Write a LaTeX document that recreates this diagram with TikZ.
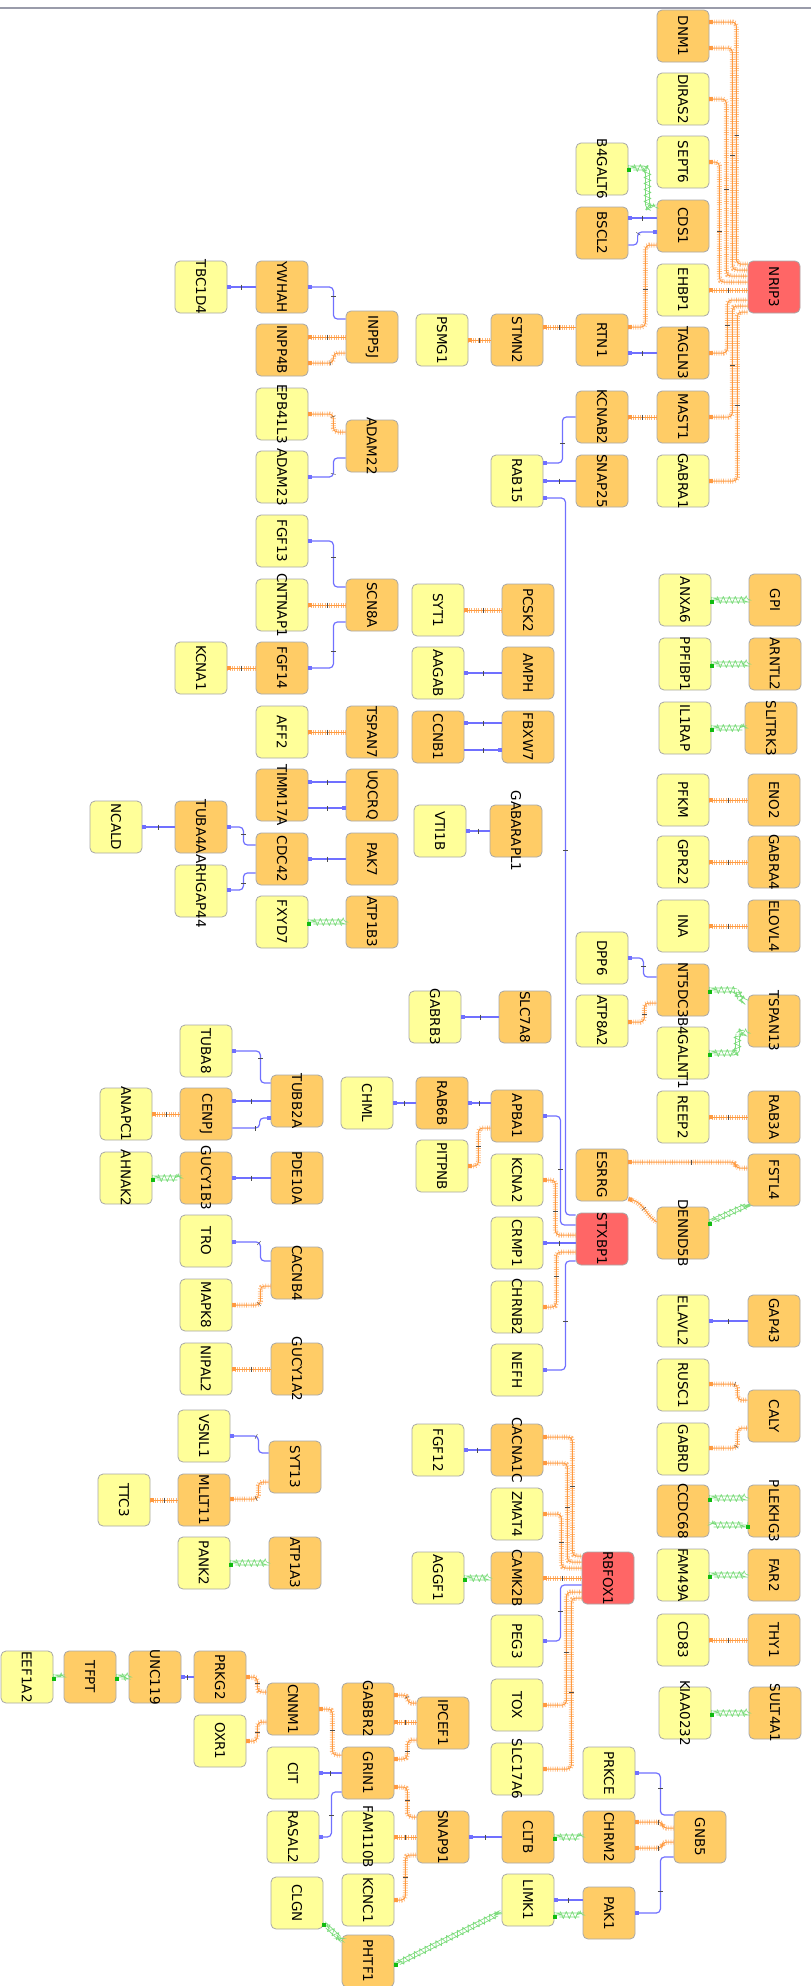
\documentclass[tikz,border=0pt]{standalone}
\usepackage{fontspec}
\setmainfont{DejaVu Sans}
\usepackage{graphicx}
\usetikzlibrary{arrows.meta,calc,decorations.pathmorphing,decorations.markings}

\definecolor{geneyellow}{HTML}{FFFF99}
\definecolor{geneorange}{HTML}{FFCC66}
\definecolor{genered}{HTML}{FF6666}
\definecolor{boxline}{HTML}{A8A8A8}
\definecolor{edgeblue}{HTML}{7070FF}
\definecolor{edgeorange}{HTML}{FF9A40}
\definecolor{edgegreen}{HTML}{7CDC7C}
\definecolor{dotgreen}{HTML}{11BB11}
\definecolor{topline}{HTML}{9A9CAA}

% gene label, turned to read from top to bottom
\newcommand{\gene}[1]{\rotatebox{-90}{\makebox[0pt]{#1}}}

\begin{document}
\begin{tikzpicture}[x=1pt, y=-1pt,
  gbox/.style={rectangle, rounded corners=5pt, draw=boxline, line width=0.8pt,
    minimum width=52pt, minimum height=52pt, inner sep=0pt, font=\fontsize{13.5}{15}\selectfont},
  ybox/.style={gbox, fill=geneyellow},
  obox/.style={gbox, fill=geneorange},
  rbox/.style={gbox, fill=genered},
  midtick/.style={postaction={decorate, decoration={markings,
    mark=at position 0.5 with {\draw[arrows=-, black!70, line width=0.4pt] (0,-2.5) -- (0,2.5);}}}},
  bedge/.style={draw=edgeblue, line width=1.2pt, rounded corners=4pt,
    arrows={Square[length=3.5pt,width=3.5pt]-}, midtick},
  oedge/.style={draw=edgeorange, line width=1pt, rounded corners=4pt,
    arrows={Square[length=4pt,width=4pt]-},
    preaction={draw=edgeorange!70, arrows=-, line width=5pt, dash pattern=on 0.7pt off 1.6pt}, midtick},
  gedge/.style={draw=edgegreen, line width=0.6pt, rounded corners=4pt,
    arrows={Square[length=3.5pt,width=3.5pt,color=dotgreen]-},
    decorate, decoration={snake, amplitude=2pt, segment length=6pt, pre length=4pt, post length=1pt}}
]
  \useasboundingbox (0,0) rectangle (811,1986);
  \fill[white] (0,0) rectangle (811,1986);

  % Draw top rule
  \draw[topline, line width=1.2pt] (0,8) -- (811,8);

  % Nodes around NRIP3
  \node[obox] (DNM1) at (683,36) {\gene{DNM1}};
  \node[ybox] (DIRAS2) at (683,99) {\gene{DIRAS2}};
  \node[ybox] (SEPT6) at (683,162) {\gene{SEPT6}};
  \node[obox] (CDS1) at (683,226) {\gene{CDS1}};
  \node[ybox] (EHBP1) at (683,290) {\gene{EHBP1}};
  \node[obox] (TAGLN3) at (683,353) {\gene{TAGLN3}};
  \node[obox] (MAST1) at (683,417) {\gene{MAST1}};
  \node[ybox] (GABRA1) at (683,481) {\gene{GABRA1}};
  \node[rbox] (NRIP3) at (774,287) {\gene{NRIP3}};
  \node[ybox] (B4GALT6) at (602,169) {\gene{B4GALT6}};
  \node[obox] (BSCL2) at (602,233) {\gene{BSCL2}};
  \node[obox] (RTN1) at (602,340) {\gene{RTN1}};
  \node[obox] (KCNAB2) at (602,417) {\gene{KCNAB2}};
  \node[obox] (SNAP25) at (602,481) {\gene{SNAP25}};
  \node[obox] (STMN2) at (517,340) {\gene{STMN2}};
  \node[ybox] (RAB15) at (517,481) {\gene{RAB15}};
  \node[ybox] (PSMG1) at (442,340) {\gene{PSMG1}};

  % Nodes of the left upper clusters
  \node[obox] (INPP5J) at (372,337) {\gene{INPP5J}};
  \node[obox] (YWHAH) at (282,287) {\gene{YWHAH}};
  \node[ybox] (TBC1D4) at (201,287) {\gene{TBC1D4}};
  \node[obox] (INPP4B) at (282,350) {\gene{INPP4B}};
  \node[ybox] (EPB41L3) at (282,414) {\gene{EPB41L3}};
  \node[obox] (ADAM22) at (372,446) {\gene{ADAM22}};
  \node[ybox] (ADAM23) at (282,477) {\gene{ADAM23}};
  \node[ybox] (FGF13) at (282,541) {\gene{FGF13}};
  \node[obox] (SCN8A) at (372,605) {\gene{SCN8A}};
  \node[ybox] (CNTNAP1) at (282,605) {\gene{CNTNAP1}};
  \node[ybox] (KCNA1) at (201,668) {\gene{KCNA1}};
  \node[obox] (FGF14) at (282,668) {\gene{FGF14}};
  \node[ybox] (AFF2) at (282,732) {\gene{AFF2}};
  \node[obox] (TSPAN7) at (372,732) {\gene{TSPAN7}};
  \node[obox] (TIMM17A) at (282,795) {\gene{TIMM17A}};
  \node[obox] (UQCRQ) at (372,795) {\gene{UQCRQ}};
  \node[ybox] (NCALD) at (116,827) {\gene{NCALD}};
  \node[obox] (TUBA4A) at (201,827) {\gene{TUBA4A}};
  \node[obox] (CDC42) at (282,859) {\gene{CDC42}};
  \node[obox] (PAK7) at (372,859) {\gene{PAK7}};
  \node[ybox] (ARHGAP44) at (201,891) {\gene{ARHGAP44}};
  \node[ybox] (FXYD7) at (282,922) {\gene{FXYD7}};
  \node[obox] (ATP1B3) at (372,922) {\gene{ATP1B3}};

  % Nodes of the middle pairs
  \node[ybox] (SYT1) at (438,610) {\gene{SYT1}};
  \node[obox] (PCSK2) at (528,610) {\gene{PCSK2}};
  \node[ybox] (AAGAB) at (438,673) {\gene{AAGAB}};
  \node[obox] (AMPH) at (528,673) {\gene{AMPH}};
  \node[obox] (CCNB1) at (438,737) {\gene{CCNB1}};
  \node[obox] (FBXW7) at (528,737) {\gene{FBXW7}};
  \node[ybox] (VTI1B) at (440,831) {\gene{VTI1B}};
  \node[obox] (GABARAPL1) at (516,831) {\gene{GABARAPL1}};
  \node[ybox] (GABRB3) at (435,1017) {\gene{GABRB3}};
  \node[obox] (SLC7A8) at (525,1017) {\gene{SLC7A8}};

  % Nodes of the right column
  \node[ybox] (ANXA6) at (685,600) {\gene{ANXA6}};
  \node[obox] (GPI) at (775,600) {\gene{GPI}};
  \node[ybox] (PPFIBP1) at (685,664) {\gene{PPFIBP1}};
  \node[obox] (ARNTL2) at (775,664) {\gene{ARNTL2}};
  \node[ybox] (IL1RAP) at (685,728) {\gene{IL1RAP}};
  \node[obox] (SLITRK3) at (771,728) {\gene{SLITRK3}};
  \node[ybox] (PFKM) at (683,800) {\gene{PFKM}};
  \node[obox] (ENO2) at (774,800) {\gene{ENO2}};
  \node[ybox] (GPR22) at (683,862) {\gene{GPR22}};
  \node[obox] (GABRA4) at (774,862) {\gene{GABRA4}};
  \node[ybox] (INA) at (683,926) {\gene{INA}};
  \node[obox] (ELOVL4) at (774,926) {\gene{ELOVL4}};
  \node[ybox] (DPP6) at (602,958) {\gene{DPP6}};
  \node[obox] (NT5DC3) at (683,990) {\gene{NT5DC3}};
  \node[ybox] (ATP8A2) at (602,1021) {\gene{ATP8A2}};
  \node[obox] (TSPAN13) at (774,1021) {\gene{TSPAN13}};
  \node[ybox] (B4GALNT1) at (683,1053) {\gene{B4GALNT1}};
  \node[ybox] (REEP2) at (683,1117) {\gene{REEP2}};
  \node[obox] (RAB3A) at (774,1117) {\gene{RAB3A}};
  \node[obox] (ESRRG) at (602,1175) {\gene{ESRRG}};
  \node[obox] (FSTL4) at (774,1180) {\gene{FSTL4}};
  \node[obox] (DENND5B) at (683,1233) {\gene{DENND5B}};
  \node[ybox] (ELAVL2) at (683,1321) {\gene{ELAVL2}};
  \node[obox] (GAP43) at (774,1321) {\gene{GAP43}};
  \node[ybox] (RUSC1) at (683,1385) {\gene{RUSC1}};
  \node[obox] (CALY) at (774,1416) {\gene{CALY}};
  \node[ybox] (GABRD) at (683,1449) {\gene{GABRD}};
  \node[obox] (CCDC68) at (683,1511) {\gene{CCDC68}};
  \node[obox] (PLEKHG3) at (774,1511) {\gene{PLEKHG3}};
  \node[ybox] (FAM49A) at (683,1575) {\gene{FAM49A}};
  \node[obox] (FAR2) at (774,1575) {\gene{FAR2}};
  \node[ybox] (CD83) at (683,1640) {\gene{CD83}};
  \node[obox] (THY1) at (774,1640) {\gene{THY1}};
  \node[ybox] (KIAA0232) at (685,1713) {\gene{KIAA0232}};
  \node[obox] (SULT4A1) at (775,1713) {\gene{SULT4A1}};

  % Nodes around STXBP1
  \node[ybox] (TUBA8) at (206,1051) {\gene{TUBA8}};
  \node[obox] (TUBB2A) at (297,1101) {\gene{TUBB2A}};
  \node[ybox] (ANAPC1) at (126,1114) {\gene{ANAPC1}};
  \node[obox] (CENPJ) at (206,1114) {\gene{CENPJ}};
  \node[ybox] (CHML) at (367,1103) {\gene{CHML}};
  \node[obox] (RAB6B) at (442,1103) {\gene{RAB6B}};
  \node[obox] (APBA1) at (517,1116) {\gene{APBA1}};
  \node[ybox] (PITPNB) at (442,1166) {\gene{PITPNB}};
  \node[ybox] (KCNA2) at (517,1180) {\gene{KCNA2}};
  \node[ybox] (AHNAK2) at (126,1178) {\gene{AHNAK2}};
  \node[obox] (GUCY1B3) at (206,1178) {\gene{GUCY1B3}};
  \node[obox] (PDE10A) at (297,1178) {\gene{PDE10A}};
  \node[ybox] (TRO) at (206,1241) {\gene{TRO}};
  \node[obox] (CACNB4) at (297,1273) {\gene{CACNB4}};
  \node[ybox] (CRMP1) at (517,1243) {\gene{CRMP1}};
  \node[rbox] (STXBP1) at (602,1239) {\gene{STXBP1}};
  \node[ybox] (MAPK8) at (206,1305) {\gene{MAPK8}};
  \node[ybox] (CHRNB2) at (517,1307) {\gene{CHRNB2}};
  \node[ybox] (NIPAL2) at (206,1369) {\gene{NIPAL2}};
  \node[obox] (GUCY1A2) at (297,1369) {\gene{GUCY1A2}};
  \node[ybox] (NEFH) at (517,1370) {\gene{NEFH}};

  % Nodes around RBFOX1
  \node[ybox] (VSNL1) at (204,1436) {\gene{VSNL1}};
  \node[obox] (SYT13) at (295,1467) {\gene{SYT13}};
  \node[ybox] (FGF12) at (438,1450) {\gene{FGF12}};
  \node[obox] (CACNA1C) at (517,1450) {\gene{CACNA1C}};
  \node[ybox] (TTC3) at (124,1500) {\gene{TTC3}};
  \node[obox] (MLLT11) at (204,1500) {\gene{MLLT11}};
  \node[ybox] (ZMAT4) at (517,1514) {\gene{ZMAT4}};
  \node[ybox] (PANK2) at (204,1563) {\gene{PANK2}};
  \node[obox] (ATP1A3) at (295,1563) {\gene{ATP1A3}};
  \node[ybox] (AGGF1) at (438,1578) {\gene{AGGF1}};
  \node[obox] (CAMK2B) at (517,1578) {\gene{CAMK2B}};
  \node[rbox] (RBFOX1) at (608,1578) {\gene{RBFOX1}};
  \node[ybox] (PEG3) at (517,1641) {\gene{PEG3}};
  \node[ybox] (TOX) at (517,1705) {\gene{TOX}};
  \node[ybox] (SLC17A6) at (517,1769) {\gene{SLC17A6}};

  % Nodes of the bottom clusters
  \node[ybox] (EEF1A2) at (27,1677) {\gene{EEF1A2}};
  \node[obox] (TFPT) at (90,1677) {\gene{TFPT}};
  \node[obox] (UNC119) at (155,1677) {\gene{UNC119}};
  \node[obox] (PRKG2) at (220,1677) {\gene{PRKG2}};
  \node[obox] (CNNM1) at (293,1709) {\gene{CNNM1}};
  \node[obox] (GABBR2) at (368,1709) {\gene{GABBR2}};
  \node[obox] (IPCEF1) at (443,1723) {\gene{IPCEF1}};
  \node[ybox] (OXR1) at (220,1741) {\gene{OXR1}};
  \node[ybox] (CIT) at (293,1773) {\gene{CIT}};
  \node[obox] (GRIN1) at (368,1773) {\gene{GRIN1}};
  \node[ybox] (PRKCE) at (609,1773) {\gene{PRKCE}};
  \node[ybox] (RASAL2) at (293,1837) {\gene{RASAL2}};
  \node[ybox] (FAM110B) at (368,1837) {\gene{FAM110B}};
  \node[obox] (SNAP91) at (443,1837) {\gene{SNAP91}};
  \node[obox] (CLTB) at (528,1837) {\gene{CLTB}};
  \node[obox] (CHRM2) at (609,1837) {\gene{CHRM2}};
  \node[obox] (GNB5) at (700,1837) {\gene{GNB5}};
  \node[ybox] (CLGN) at (297,1903) {\gene{CLGN}};
  \node[ybox] (KCNC1) at (368,1900) {\gene{KCNC1}};
  \node[ybox] (LIMK1) at (528,1900) {\gene{LIMK1}};
  \node[obox] (PAK1) at (609,1913) {\gene{PAK1}};
  \node[obox] (PHTF1) at (368,1961) {\gene{PHTF1}};

  % Edges into NRIP3
  \draw[oedge] ($(DNM1.east)+(0,-14)$) -- ++(27,0) |- ($(NRIP3.west)+(0,-23)$);
  \draw[oedge] ($(DNM1.east)+(0,12)$) -- ++(23,0) |- ($(NRIP3.west)+(0,-17)$);
  \draw[oedge] (DIRAS2.east) -- ++(17,0) |- ($(NRIP3.west)+(0,-11)$);
  \draw[oedge] (SEPT6.east) -- ++(10,0) |- ($(NRIP3.west)+(0,-5)$);
  \draw[oedge] (EHBP1.east) -- ($(NRIP3.west)+(0,3)$);
  \draw[oedge] (TAGLN3.east) -- ++(18,0) |- ($(NRIP3.west)+(0,13)$);
  \draw[oedge] (MAST1.east) -- ++(23,0) |- ($(NRIP3.west)+(0,19)$);
  \draw[oedge] (GABRA1.east) -- ++(28,0) |- ($(NRIP3.west)+(0,25)$);

  % Edges of CDS1 and RTN1
  \draw[gedge] ($(B4GALT6.east)+(0,-1)$) -- ++(18,0) |- ($(CDS1.west)+(0,-18)$);
  \draw[bedge] ($(BSCL2.east)+(0,-15)$) -- ($(CDS1.west)+(0,-8)$);
  \draw[bedge] ($(CDS1.west)+(0,6)$) -- ++(-19,0) |- ($(BSCL2.east)+(0,12)$);
  \draw[oedge] ($(RTN1.east)+(0,-13)$) -- ++(17,0) |- ($(CDS1.west)+(0,19)$);
  \draw[bedge] ($(RTN1.east)+(0,13)$) -- (TAGLN3.west);
  \draw[oedge] ($(STMN2.east)+(0,-13)$) -- ($(RTN1.west)+(0,-13)$);
  \draw[oedge] (PSMG1.east) -- (STMN2.west);

  % Edges of INPP5J and ADAM22
  \draw[bedge] (TBC1D4.east) -- (YWHAH.west);
  \draw[bedge] (YWHAH.east) -- ++(25,0) |- ($(INPP5J.west)+(0,-18)$);
  \draw[oedge] ($(INPP4B.east)+(0,-13)$) -- (INPP5J.west);
  \draw[oedge] ($(INPP4B.east)+(0,13)$) -- ++(25,0) |- ($(INPP5J.west)+(0,16)$);
  \draw[oedge] (EPB41L3.east) -- ++(25,0) |- ($(ADAM22.west)+(0,-14)$);
  \draw[bedge] (ADAM23.east) -- ++(25,0) |- ($(ADAM22.west)+(0,12)$);

  % Edges of RAB15
  \draw[oedge] (KCNAB2.east) -- (MAST1.west);
  \draw[bedge] ($(RAB15.east)+(0,-18)$) -- ++(19,0) |- (KCNAB2.west);
  \draw[bedge] (RAB15.east) -- (SNAP25.west);
  \draw[bedge] ($(RAB15.east)+(0,17)$) -- ++(22,0) |- ($(STXBP1.west)+(0,-24)$);

  % Edges of SCN8A and its neighbours
  \draw[bedge] (FGF13.east) -- ++(25,0) |- ($(SCN8A.west)+(0,-18)$);
  \draw[oedge] (CNTNAP1.east) -- (SCN8A.west);
  \draw[bedge] (FGF14.east) -- ++(25,0) |- ($(SCN8A.west)+(0,17)$);
  \draw[oedge] (KCNA1.east) -- (FGF14.west);
  \draw[oedge] (AFF2.east) -- (TSPAN7.west);
  \draw[bedge] ($(TIMM17A.east)+(0,-13)$) -- ($(UQCRQ.west)+(0,-13)$);
  \draw[bedge] ($(UQCRQ.west)+(0,13)$) -- ($(TIMM17A.east)+(0,13)$);

  % Edges of the middle pairs
  \draw[oedge] (SYT1.east) -- (PCSK2.west);
  \draw[bedge] (AAGAB.east) -- (AMPH.west);
  \draw[bedge] ($(CCNB1.east)+(0,-14)$) -- ($(FBXW7.west)+(0,-14)$);
  \draw[bedge] ($(FBXW7.west)+(0,13)$) -- ($(CCNB1.east)+(0,13)$);
  \draw[bedge] (VTI1B.east) -- (GABARAPL1.west);
  \draw[bedge] (GABRB3.east) -- (SLC7A8.west);

  % Edges of the right column pairs
  \draw[gedge] (ANXA6.east) -- (GPI.west);
  \draw[gedge] (PPFIBP1.east) -- (ARNTL2.west);
  \draw[gedge] (IL1RAP.east) -- (SLITRK3.west);
  \draw[oedge] (PFKM.east) -- (ENO2.west);
  \draw[oedge] (GPR22.east) -- (GABRA4.west);
  \draw[oedge] (INA.east) -- (ELOVL4.west);

  % Edges of CDC42
  \draw[bedge] (NCALD.east) -- (TUBA4A.west);
  \draw[bedge] (TUBA4A.east) -- ++(16,0) |- ($(CDC42.west)+(0,-14)$);
  \draw[bedge] ($(ARHGAP44.east)+(0,-1)$) -- ++(16,0) |- ($(CDC42.west)+(0,14)$);
  \draw[bedge] (CDC42.east) -- (PAK7.west);
  \draw[gedge] (FXYD7.east) -- (ATP1B3.west);

  % Edges of NT5DC3 and TSPAN13
  \draw[bedge] (DPP6.east) -- ++(15,0) |- ($(NT5DC3.west)+(0,-13)$);
  \draw[oedge] ($(ATP8A2.east)+(0,1)$) -- ++(16,0) |- ($(NT5DC3.west)+(0,13)$);
  \draw[gedge] (NT5DC3.east) -- ++(27,0) |- ($(TSPAN13.west)+(0,-21)$);
  \draw[gedge] (B4GALNT1.east) -- ++(27,0) |- ($(TSPAN13.west)+(0,12)$);

  % Edges of TUBB2A
  \draw[bedge] (TUBA8.east) -- ++(28,0) |- ($(TUBB2A.west)+(0,-18)$);
  \draw[bedge] ($(CENPJ.east)+(0,-13)$) -- (TUBB2A.west);
  \draw[bedge] ($(TUBB2A.west)+(0,17)$) -- ++(-11,0) |- ($(CENPJ.east)+(0,14)$);
  \draw[oedge] (ANAPC1.east) -- (CENPJ.west);

  % Edges of APBA1
  \draw[bedge] (CHML.east) -- (RAB6B.west);
  \draw[bedge] (RAB6B.east) -- ($(APBA1.west)+(0,-13)$);
  \draw[oedge] (PITPNB.east) -- ++(10,0) |- ($(APBA1.west)+(0,12)$);
  \draw[bedge] (APBA1.east) -- ++(17,0) |- ($(STXBP1.west)+(0,-14)$);
  \draw[oedge] (REEP2.east) -- (RAB3A.west);

  % Edges into STXBP1
  \draw[oedge] (KCNA2.east) -- ++(12,0) |- ($(STXBP1.west)+(0,-4)$);
  \draw[bedge] (CRMP1.east) -- ($(STXBP1.west)+(0,4)$);
  \draw[oedge] (CHRNB2.east) -- ++(13,0) |- ($(STXBP1.west)+(0,13)$);
  \draw[bedge] (NEFH.east) -- ++(22,0) |- ($(STXBP1.west)+(0,22)$);

  % Edges of ESRRG and DENND5B
  \draw[oedge] ($(ESRRG.east)+(0,-13)$) -- ++(107,0) |- ($(FSTL4.west)+(0,-12)$);
  \draw[oedge] ($(ESRRG.east)+(0,24)$) .. controls +(16,4) and +(-12,-8) .. ($(DENND5B.west)+(0,-11)$);
  \draw[gedge] ($(DENND5B.east)+(0,-11)$) -- ($(FSTL4.west)+(0,25)$);

  % Edges of GUCY1B3 and CACNB4
  \draw[gedge] (AHNAK2.east) -- (GUCY1B3.west);
  \draw[bedge] (GUCY1B3.east) -- (PDE10A.west);
  \draw[bedge] ($(TRO.east)+(0,1)$) -- ++(28,0) |- ($(CACNB4.west)+(0,-12)$);
  \draw[oedge] (MAPK8.east) -- ++(28,0) |- ($(CACNB4.west)+(0,13)$);
  \draw[oedge] (NIPAL2.east) -- (GUCY1A2.west);

  % Edges of the lower right column
  \draw[bedge] (ELAVL2.east) -- (GAP43.west);
  \draw[oedge] ($(RUSC1.east)+(0,-1)$) -- ++(28,0) |- ($(CALY.west)+(0,-16)$);
  \draw[oedge] ($(GABRD.east)+(0,-1)$) -- ++(28,0) |- ($(CALY.west)+(0,12)$);
  \draw[gedge] ($(CCDC68.east)+(0,-13)$) -- ($(PLEKHG3.west)+(0,-13)$);
  \draw[gedge] ($(PLEKHG3.west)+(0,14)$) -- ($(CCDC68.east)+(0,14)$);
  \draw[gedge] (FAM49A.east) -- (FAR2.west);
  \draw[oedge] (CD83.east) -- (THY1.west);
  \draw[gedge] (KIAA0232.east) -- (SULT4A1.west);

  % Edges of SYT13
  \draw[bedge] (VSNL1.east) -- ++(28,0) |- ($(SYT13.west)+(0,-14)$);
  \draw[oedge] ($(MLLT11.east)+(0,-1)$) -- ++(28,0) |- ($(SYT13.west)+(0,15)$);
  \draw[oedge] (TTC3.east) -- (MLLT11.west);
  \draw[gedge] (PANK2.east) -- (ATP1A3.west);

  % Edges into RBFOX1
  \draw[bedge] (FGF12.east) -- (CACNA1C.west);
  \draw[oedge] ($(CACNA1C.east)+(0,-13)$) -- ++(29,0) |- ($(RBFOX1.west)+(0,-22)$);
  \draw[oedge] ($(CACNA1C.east)+(0,13)$) -- ++(24,0) |- ($(RBFOX1.west)+(0,-16)$);
  \draw[oedge] (ZMAT4.east) -- ++(18,0) |- ($(RBFOX1.west)+(0,-10)$);
  \draw[oedge] (CAMK2B.east) -- (RBFOX1.west);
  \draw[gedge] (AGGF1.east) -- (CAMK2B.west);
  \draw[bedge] (PEG3.east) -- ++(17,0) |- ($(RBFOX1.west)+(0,7)$);
  \draw[oedge] (TOX.east) -- ++(23,0) |- ($(RBFOX1.west)+(0,14)$);
  \draw[oedge] (SLC17A6.east) -- ++(28,0) |- ($(RBFOX1.west)+(0,20)$);

  % Edges of the bottom left chain
  \draw[gedge] (EEF1A2.east) -- (TFPT.west);
  \draw[gedge] (TFPT.east) -- (UNC119.west);
  \draw[bedge] (UNC119.east) -- (PRKG2.west);
  \draw[oedge] (PRKG2.east) -- ++(11,0) |- ($(CNNM1.west)+(0,-17)$);
  \draw[oedge] (OXR1.east) -- ++(11,0) |- ($(CNNM1.west)+(0,13)$);

  % Edges of GRIN1
  \draw[oedge] (CNNM1.east) -- ++(13,0) |- ($(GRIN1.west)+(0,-18)$);
  \draw[oedge] ($(GABBR2.east)+(0,-14)$) -- ++(13,0) |- ($(IPCEF1.west)+(0,-20)$);
  \draw[oedge] ($(GABBR2.east)+(0,13)$) -- ($(IPCEF1.west)+(0,-1)$);
  \draw[oedge] ($(GRIN1.east)+(0,-14)$) -- ++(13,0) |- ($(IPCEF1.west)+(0,17)$);
  \draw[bedge] (CIT.east) -- (GRIN1.west);
  \draw[bedge] (RASAL2.east) -- ++(12,0) |- ($(GRIN1.west)+(0,19)$);
  \draw[oedge] ($(GRIN1.east)+(0,14)$) -- ++(13,0) |- ($(SNAP91.west)+(0,-20)$);

  % Edges of GNB5 and SNAP91
  \draw[bedge] (PRKCE.east) -- ++(25,0) |- ($(GNB5.west)+(0,-22)$);
  \draw[oedge] (FAM110B.east) -- (SNAP91.west);
  \draw[bedge] (SNAP91.east) -- (CLTB.west);
  \draw[gedge] (CLTB.east) -- (CHRM2.west);
  \draw[oedge] ($(CHRM2.east)+(0,-15)$) -- ++(27,0) |- ($(GNB5.west)+(0,-9)$);
  \draw[oedge] ($(CHRM2.east)+(0,11)$) -- ++(27,0) |- ($(GNB5.west)+(0,5)$);
  \draw[bedge] (PAK1.east) -- ++(25,0) |- ($(GNB5.west)+(0,20)$);
  \draw[bedge] (LIMK1.east) -- ($(PAK1.west)+(0,-13)$);
  \draw[gedge] ($(LIMK1.east)+(0,15)$) -- ($(PAK1.west)+(0,2)$);
  \draw[oedge] (KCNC1.east) -- ++(11,0) |- ($(SNAP91.west)+(0,18)$);
  \draw[gedge] ($(CLGN.east)+(0,20)$) -- ($(PHTF1.west)+(0,-21)$);
  \draw[gedge] ($(PHTF1.east)+(0,4)$) -- ($(LIMK1.west)+(0,12)$);
\end{tikzpicture}
\end{document}
